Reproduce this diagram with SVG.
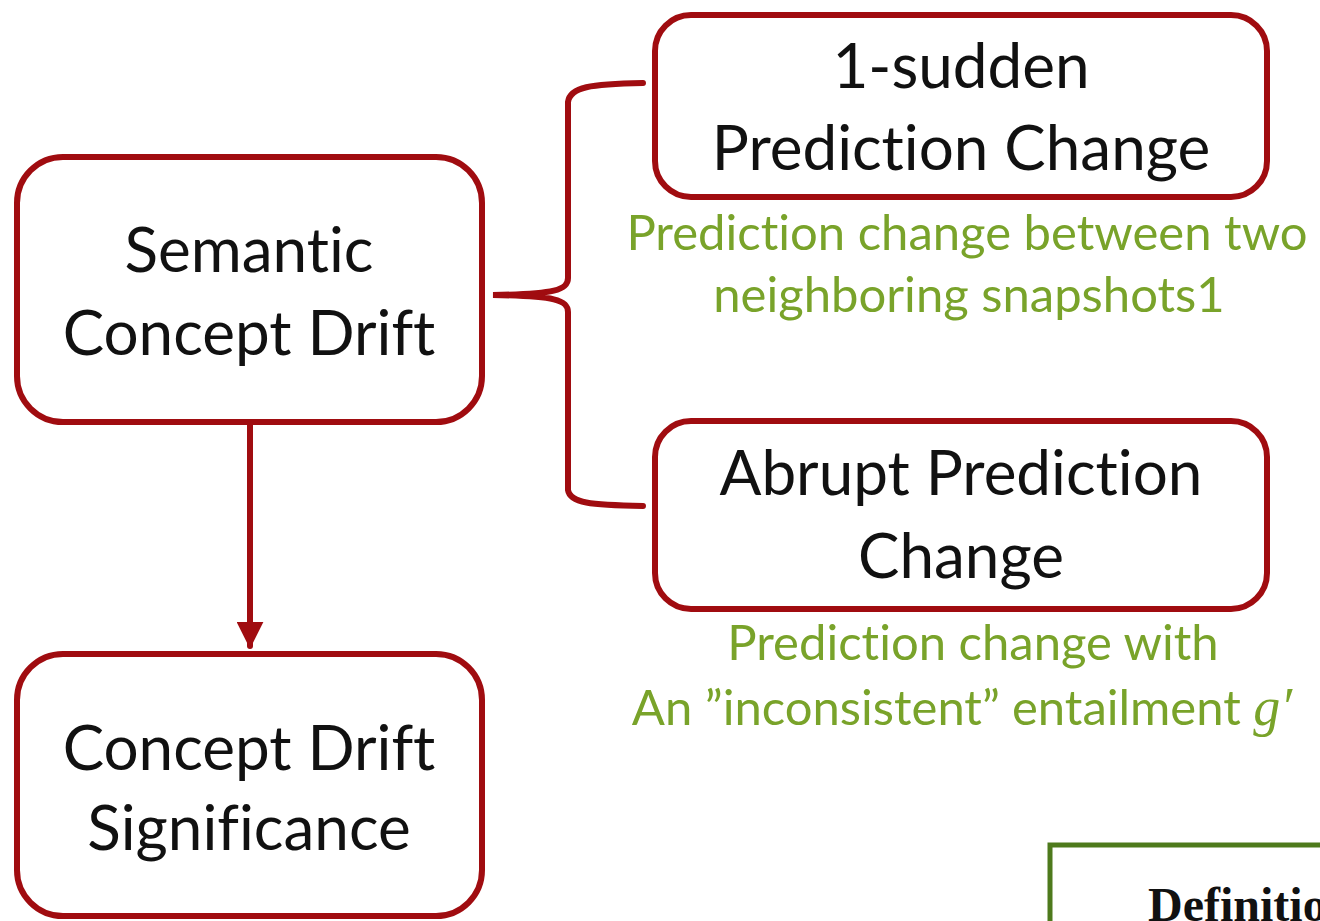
<svg xmlns="http://www.w3.org/2000/svg" width="1320" height="921" viewBox="0 0 1320 921">
  <style>
    text { font-variant-ligatures: none; font-feature-settings: "liga" 0, "clig" 0; }
    .box { fill: #ffffff; stroke: #a00c10; stroke-width: 6; }
    .lbl { font-family: Lato, "Open Sans", sans-serif; font-size: 62px; fill: #111111; text-anchor: middle; }
    .note { font-family: Lato, "Open Sans", sans-serif; font-size: 49px; fill: #79a32a; text-anchor: middle; }
    .wire { fill: none; stroke: #a00c10; stroke-width: 6; stroke-linecap: round; }
  </style>
  <defs>
    <marker id="head" viewBox="0 0 10 10" refX="9" refY="5" markerWidth="4.5" markerHeight="4.5" orient="auto" markerUnits="strokeWidth">
      <path d="M0,0 L10,5 L0,10 Z" fill="#a00c10"/>
    </marker>
  </defs>
  <rect width="1320" height="921" fill="#ffffff"/>

  <g id="connectors">
    <!-- curly brace joining the drift node to its two sub-kinds -->
    <path class="wire" d="M643,83 C590,84 570,87 568,102 L568,278 C568,290 555,294 493,295 C555,296 568,300 568,312 L568,490 C570,503 590,505 643,506"/>
    <!-- downward arrow -->
    <path class="wire" d="M250,425 L250,646" marker-end="url(#head)"/>
  </g>

  <g id="semantic-drift">
    <rect class="box" x="17" y="157" width="465" height="265" rx="46"/>
    <text class="lbl" x="249" y="272">Semantic</text>
    <text class="lbl" x="249" y="355">Concept Drift</text>
  </g>

  <g id="drift-significance">
    <rect class="box" x="17" y="654" width="465" height="262" rx="46"/>
    <text class="lbl" x="249" y="770">Concept Drift</text>
    <text class="lbl" x="249" y="850">Significance</text>
  </g>

  <g id="sudden-change">
    <rect class="box" x="655" y="15" width="612" height="182" rx="36"/>
    <text class="lbl" x="961" y="88">1-sudden</text>
    <text class="lbl" x="961" y="170">Prediction Change</text>
    <text class="note" x="967" y="250">Prediction change between two</text>
    <text class="note" x="969" y="312">neighboring snapshots1</text>
  </g>

  <g id="abrupt-change">
    <rect class="box" x="655" y="421" width="612" height="188" rx="36"/>
    <text class="lbl" x="961" y="495">Abrupt Prediction</text>
    <text class="lbl" x="961" y="578">Change</text>
    <text class="note" x="973" y="660">Prediction change with</text>
    <text class="note" x="962" y="725">An ”inconsistent” entailment <tspan font-family="'Liberation Serif', serif" font-style="italic" font-size="54">g′</tspan></text>
  </g>

  <g id="definition">
    <rect x="1050" y="845" width="320" height="120" fill="#ffffff" stroke="#4e7a1c" stroke-width="5"/>
    <text x="1148" y="921" font-family="'Liberation Serif', serif" font-weight="bold" font-size="48" fill="#111111">Definition</text>
  </g>
</svg>
